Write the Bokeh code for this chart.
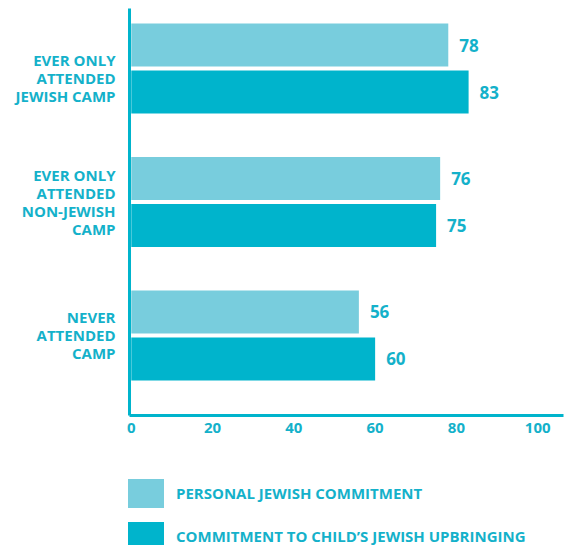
from bokeh.plotting import figure
from bokeh.layouts import column
from bokeh.models import (ColumnDataSource, Range1d, FixedTicker, LabelSet,
                          Legend, LegendItem)
from bokeh.transform import dodge
from bokeh.core.properties import value
from bokeh.embed import file_html
from bokeh.resources import INLINE

categories = ["\nEVER ONLY\nATTENDED\nJEWISH CAMP",
              "EVER ONLY\nATTENDED\nNON-JEWISH\nCAMP",
              "NEVER\nATTENDED\nCAMP"]
personal = [78, 76, 56]
child = [83, 75, 60]
series_names = ["PERSONAL JEWISH COMMITMENT",
                "COMMITMENT TO CHILD\u2019S JEWISH UPBRINGING"]
x_ticks = [0, 20, 40, 60, 80, 100]

LIGHT = "#78CDDD"
DARK = "#00B4CC"
TEXT = "#14B1CA"
FONT = value("Open Sans")

idx = list(range(len(categories)))
src = ColumnDataSource(dict(
    idx=idx,
    personal=personal,
    child=child,
    pl=[str(v) for v in personal],
    cl=[str(v) for v in child],
))

p = figure(width=565, height=455,
           x_range=Range1d(-0.44, 106.35), y_range=Range1d(2.6, -0.45),
           output_backend="svg", toolbar_location=None,
           min_border_left=129, min_border_right=2, min_border_top=8,
           min_border_bottom=40)
p.outline_line_color = None
p.grid.visible = False

OFF = 0.176
BH = 0.322
r1 = p.hbar(y=dodge("idx", -OFF, range=p.y_range), left=0, right="personal",
            height=BH, source=src, fill_color=LIGHT, line_color=None)
r2 = p.hbar(y=dodge("idx", OFF, range=p.y_range), left=0, right="child",
            height=BH, source=src, fill_color=DARK, line_color=None)

for col, lab, off in [("personal", "pl", -OFF), ("child", "cl", OFF)]:
    p.add_layout(LabelSet(x=col, y=dodge("idx", off, range=p.y_range), text=lab,
                          source=src, x_offset=11, text_align="left",
                          text_baseline="middle", text_color=TEXT,
                          text_font=FONT, text_font_style="bold",
                          text_font_size="17px"))

p.xaxis.ticker = FixedTicker(ticks=x_ticks)
p.xaxis.major_tick_line_color = None
p.xaxis.minor_tick_line_color = None
p.xaxis.axis_line_color = DARK
p.xaxis.axis_line_width = 3
p.xaxis.major_label_text_color = TEXT
p.xaxis.major_label_text_font = "Open Sans"
p.xaxis.major_label_text_font_style = "bold"
p.xaxis.major_label_text_font_size = "15px"
p.xaxis.major_label_standoff = 1

p.yaxis.ticker = FixedTicker(ticks=idx)
p.yaxis.major_label_overrides = {i: c for i, c in zip(idx, categories)}
p.yaxis.major_tick_line_color = None
p.yaxis.minor_tick_line_color = None
p.yaxis.axis_line_color = DARK
p.yaxis.axis_line_width = 3
p.yaxis.major_label_text_color = TEXT
p.yaxis.major_label_text_font = "Open Sans"
p.yaxis.major_label_text_font_style = "bold"
p.yaxis.major_label_text_font_size = "15px"
p.yaxis.major_label_text_line_height = 0.9
p.yaxis.major_label_standoff = 8

# legend panel below the chart (its bars lie outside its ranges; only the
# legend of this panel is seen)
lg = figure(width=565, height=90, x_range=Range1d(200, 201),
            y_range=Range1d(200, 201), output_backend="svg",
            toolbar_location=None, min_border_left=0, min_border_right=0,
            min_border_top=0, min_border_bottom=0)
lg.axis.visible = False
lg.grid.visible = False
lg.outline_line_color = None
g1 = lg.hbar(y="idx", left=0, right="personal", height=BH, source=src,
             fill_color=LIGHT, line_color=None)
g2 = lg.hbar(y="idx", left=0, right="child", height=BH, source=src,
             fill_color=DARK, line_color=None)

legend = Legend(items=[LegendItem(label=series_names[0], renderers=[g1]),
                       LegendItem(label=series_names[1], renderers=[g2])],
                location=(123, -9), orientation="vertical",
                glyph_width=45, glyph_height=36, label_standoff=8,
                spacing=7, padding=0, margin=0,
                border_line_color=None, background_fill_alpha=0,
                label_text_color=TEXT, label_text_font="Open Sans",
                label_text_font_style="bold", label_text_font_size="15px")
lg.add_layout(legend, "center")

open("out.html", "w").write(file_html(column(p, column(lg)), INLINE))
